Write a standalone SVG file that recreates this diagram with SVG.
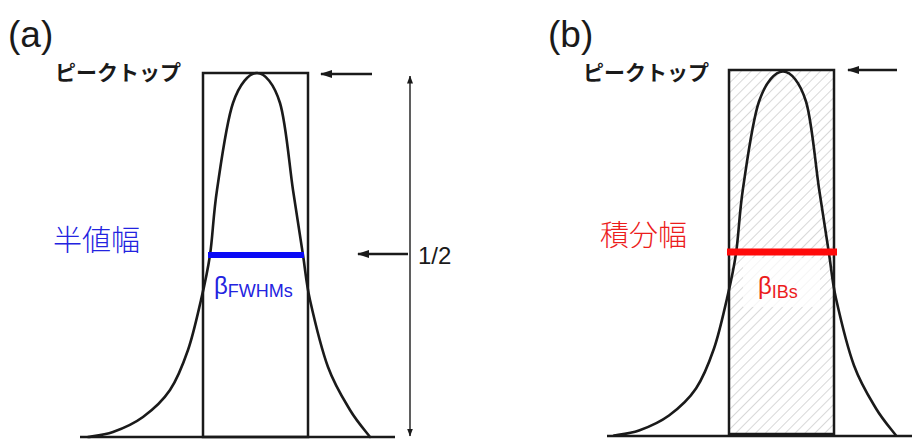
<svg xmlns="http://www.w3.org/2000/svg" xmlns:xlink="http://www.w3.org/1999/xlink" width="912" height="442" viewBox="0 0 912 442">
<style>
.lat{font-family:"Liberation Sans",Arial,sans-serif;}
.cjk{font-family:"Noto Sans CJK JP","Noto Sans CJK SC",sans-serif;}
.ink{fill:none;stroke:#1a1a1a;stroke-width:2.5;}
.curve{fill:none;stroke:#1a1a1a;stroke-width:2.6;stroke-linejoin:round;stroke-linecap:round;}
.base{stroke:#1a1a1a;stroke-width:2.5;}
.arr{stroke:#1a1a1a;stroke-width:2.5;fill:none;}
.thin{stroke:#1a1a1a;stroke-width:1.4;fill:none;}
.blue{fill:#2323e0;}
.red{fill:#ec1c1c;}
</style>
<defs>
<marker id="ah" viewBox="0 0 12 8" refX="11" refY="4" markerWidth="12" markerHeight="8" markerUnits="userSpaceOnUse" orient="auto-start-reverse"><path d="M0,0 L12,4 L0,8 z" fill="#1a1a1a"/></marker>
<marker id="ahs" viewBox="0 0 8 6" refX="7.5" refY="3" markerWidth="8" markerHeight="6" markerUnits="userSpaceOnUse" orient="auto-start-reverse"><path d="M0,0 L8,3 L0,6 z" fill="#1a1a1a"/></marker>
<pattern id="hatch" width="7" height="7" patternUnits="userSpaceOnUse" patternTransform="rotate(45)"><line x1="0" y1="0" x2="0" y2="7" stroke="#cbcbcb" stroke-width="1.5"/></pattern>
<path id="peak" class="curve" d="M88,437 C92.2,436.2 103.8,435.3 113,432 C122.2,428.7 133.5,424 143,417 C152.5,410 162.5,401.2 170,390 C177.5,378.8 182.8,365 188,350 C193.2,335 197.3,315.8 201,300 C204.7,284.2 207.3,273.3 210,255 C212.7,236.7 213.2,215.3 217,190 C220.8,164.7 226.3,122.5 233,103 C239.7,83.5 249.2,73 257,73 C264.8,73 274,83.5 280,103 C286,122.5 289.2,164.7 293,190 C296.8,215.3 300.2,236.7 303,255 C305.8,273.3 305.8,281.3 310,300 C314.2,318.7 321.3,348.7 328,367 C334.7,385.3 343,398.3 350,410 C357,421.7 366.7,432.5 370,437"/>
</defs>
<rect width="912" height="442" fill="#ffffff"/>

<g id="panel-a">
  <text id="label-a" class="lat" x="8" y="47" font-size="37" fill="#1a1a1a">(a)</text>
  <text id="peaktop-a" class="cjk" x="55" y="80" font-size="21" font-weight="bold" fill="#1a1a1a">ピークトップ</text>
  <line id="baseline-a" class="base" x1="80" y1="437" x2="395" y2="437"/>
  <rect id="box-a" class="ink" x="203" y="73" width="105" height="364"/>
  <use id="peak-a" xlink:href="#peak" href="#peak"/>
  <line id="fwhm-bar" x1="208" y1="255" x2="304" y2="255" stroke="#0a0af5" stroke-width="6"/>
  <text id="fwhm-label" class="cjk blue" x="53" y="251" font-size="29" font-weight="300">半値幅</text>
  <text id="beta-fwhm" class="lat blue" x="214" y="294" font-size="24">β<tspan font-size="18" dy="3">FWHMs</tspan></text>
  <text id="half-label" class="lat" x="418" y="264" font-size="24" fill="#1a1a1a">1/2</text>
</g>

<g id="panel-b">
  <text id="label-b" class="lat" x="548" y="47" font-size="37" fill="#1a1a1a">(b)</text>
  <text id="peaktop-b" class="cjk" x="583" y="80" font-size="21" font-weight="bold" fill="#1a1a1a">ピークトップ</text>
  <line id="baseline-b" class="base" x1="607" y1="436" x2="912" y2="436"/>
  <rect id="box-b-fill" x="729" y="70" width="105" height="364" fill="url(#hatch)"/>
  <rect id="beta-ib-bg" x="743" y="258" width="77" height="49" fill="#ffffff" opacity="0.75"/>
  <rect id="box-b" class="ink" x="729" y="70" width="105" height="364"/>
  <use id="peak-b" xlink:href="#peak" href="#peak" transform="translate(526,-1.5)"/>
  <line id="ib-bar" x1="727" y1="252" x2="837" y2="252" stroke="#ff0a0a" stroke-width="7"/>
  <text id="ib-label" class="cjk red" x="600" y="246" font-size="29" font-weight="300">積分幅</text>
  <text id="beta-ib" class="lat red" x="758" y="294" font-size="24">β<tspan font-size="18" dy="4">IBs</tspan></text>
</g>

<g id="connectors">
  <line class="arr" x1="372" y1="74" x2="321" y2="74" marker-end="url(#ah)"/>
  <line class="arr" x1="408" y1="254" x2="358" y2="254" marker-end="url(#ah)"/>
  <line class="thin" x1="410" y1="76" x2="410" y2="436" marker-start="url(#ahs)" marker-end="url(#ahs)"/>
  <line class="arr" x1="897" y1="70" x2="848" y2="70" marker-end="url(#ah)"/>
</g>
</svg>
